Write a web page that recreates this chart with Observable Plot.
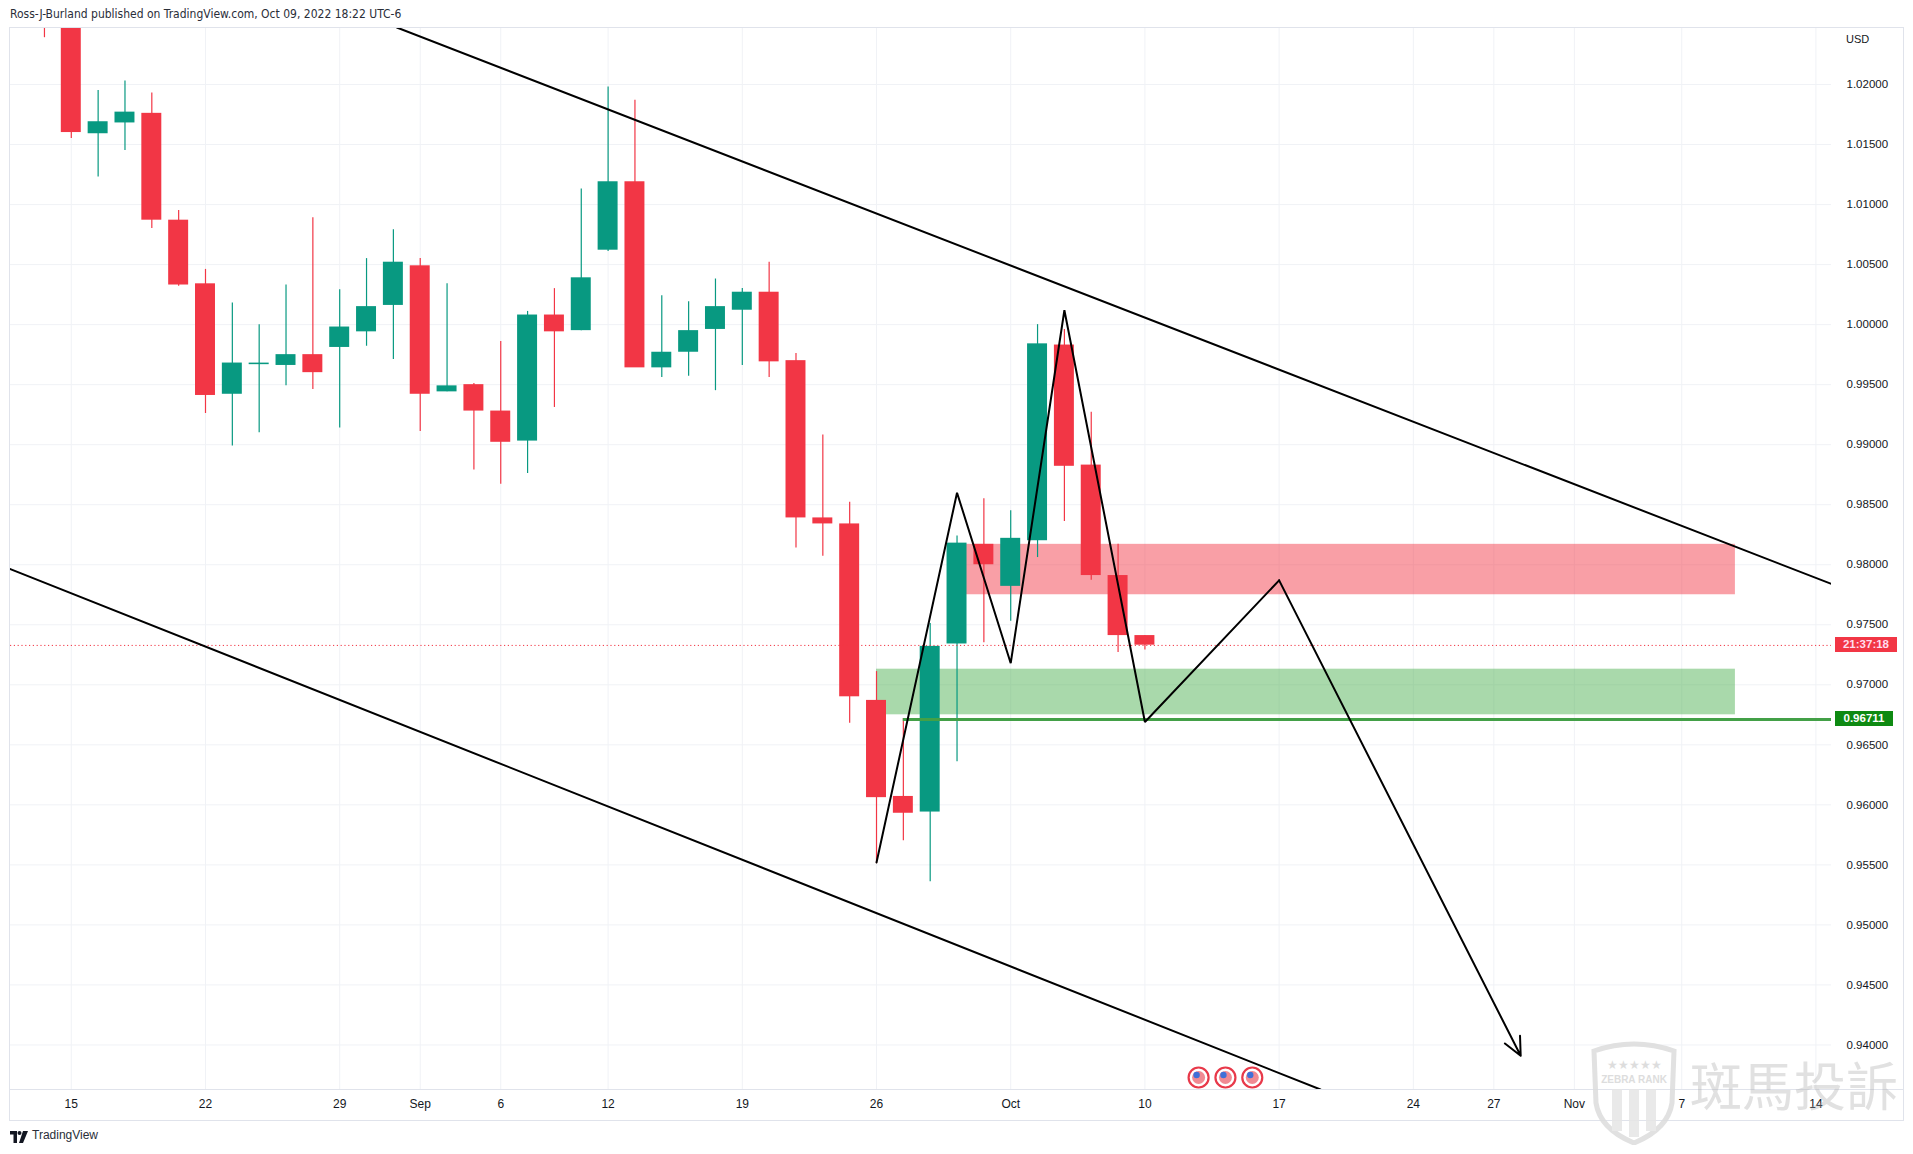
<!DOCTYPE html>
<html><head><meta charset="utf-8">
<script src="https://cdn.jsdelivr.net/npm/d3@7"></script>
<script src="https://cdn.jsdelivr.net/npm/@observablehq/plot@0.6"></script>
<style>
html,body{margin:0;padding:0;background:#fff;}
#wrap{position:relative;width:1913px;height:1154px;overflow:hidden;font-family:"Liberation Sans",Arial,sans-serif;color:#131722;}
#wrap > svg{position:absolute;left:0;top:0;}
.ov{position:absolute;white-space:nowrap;}
</style></head>
<body><div id="wrap"></div>
<script>
// ---------- data ----------
const barIndex = [-1,0,1,2,3,4,5,6,7,8,9,10,11,12,13,14,15,16,17,18,19,20,21,22,23,24,25,26,27,28,29,30,31,32,33,34,35,36,37,38,39,40];
const barDate = ["Aug 12","Aug 15","Aug 16","Aug 17","Aug 18","Aug 19","Aug 22","Aug 23","Aug 24","Aug 25","Aug 26","Aug 29","Aug 30","Aug 31","Sep 1","Sep 2","Sep 5","Sep 6","Sep 7","Sep 8","Sep 9","Sep 12","Sep 13","Sep 14","Sep 15","Sep 16","Sep 19","Sep 20","Sep 21","Sep 22","Sep 23","Sep 26","Sep 27","Sep 28","Sep 29","Sep 30","Oct 3","Oct 4","Oct 5","Oct 6","Oct 7","Oct 10"];
const openP  = [1.0320,1.0259,1.0159,1.0168,1.0176,1.0087,1.0034,0.9942,0.99675,0.9966,0.9975,0.9981,0.9994,1.0016,1.0049,0.9944,0.9950,0.9928,0.9903,1.0008,0.9995,1.0062,1.0119,0.9964,0.9977,0.9996,1.0012,1.0027,0.9970,0.9839,0.9834,0.9687,0.9607,0.9594,0.9734,0.9817,0.9782,0.9820,0.9983,0.9883,0.9791,0.9741];
const highP  = [1.0368,1.0277,1.0195,1.0203,1.0193,1.0095,1.0046,1.0018,1.0000,1.0033,1.0089,1.0029,1.0055,1.0079,1.0055,1.0034,0.9951,0.9986,1.0011,1.0030,1.0113,1.0198,1.0187,1.0024,1.0019,1.0038,1.0030,1.0052,0.9976,0.9908,0.9852,0.9711,0.9672,0.9751,0.9824,0.9855,0.9845,1.0000,0.9996,0.9927,0.9817,0.9741];
const lowP   = [1.0239,1.0155,1.0123,1.0145,1.0080,1.0032,0.9926,0.9899,0.9910,0.9949,0.9946,0.9914,0.9982,0.9971,0.9911,0.9944,0.9879,0.9867,0.9876,0.9931,0.9995,1.0061,0.9965,0.9956,0.9957,0.9945,0.9966,0.9956,0.9814,0.9807,0.9668,0.9551,0.9570,0.9536,0.9636,0.9735,0.9753,0.9806,0.9836,0.9787,0.9727,0.9729];
const closeP = [1.0259,1.0160,1.0169,1.0177,1.0087,1.0033,0.9941,0.9968,0.99677,0.9975,0.9960,0.9998,1.0015,1.0052,0.9942,0.9949,0.9928,0.9902,1.0008,0.9994,1.0039,1.0119,0.9964,0.9977,0.9995,1.0015,1.0027,0.9969,0.9839,0.9834,0.9690,0.9606,0.9593,0.9732,0.9818,0.9800,0.9822,0.9984,0.9882,0.9791,0.9741,0.9733];

const tickIdx    = [0,5,10,13,16,20,25,30,35,40,45,50,53,56,60,65];
const tickLabels = ["15","22","29","Sep","6","12","19","26","Oct","10","17","24","27","Nov","7","14"];
const priceTicks = [0.940,0.945,0.950,0.955,0.960,0.965,0.970,0.975,0.980,0.985,0.990,0.995,1.000,1.005,1.010,1.015,1.020];
const xDomain = [-2.265, 65.58];
const yDomain = [0.93629, 1.02475];

// zones
const zoneX1 = [33.35, 30];
const zoneX2 = [62, 62];
const zoneTop = [0.9817, 0.9713];
const zoneBottom = [0.9775, 0.9675];
const zoneColor = ["#f23645", "#4caf50"];

// horizontal support line
const supportLevel = 0.96711;
const supportStart = 31;
const lastPrice = 0.97328;
const countdown = "21:37:18";

// channel lines
const upperX = [12.13, 65.73], upperY = [1.02475, 0.97827];
const lowerX = [-2.27, 46.54], lowerY = [0.97964, 0.93629];

// projected zigzag path
const zigX = [30, 33, 35, 37, 40, 45, 54];
const zigY = [0.9552, 0.9860, 0.9718, 1.0012, 0.9669, 0.9787, 0.9391];

// economic event markers
const eventIdx = [42, 43, 44];

// ---------- build ----------
const UP = "#089981", DOWN = "#f23645";
const rows = barIndex.map((i, k) => ({i, date: barDate[k], o: openP[k], h: highP[k], l: lowP[k], c: closeP[k], up: closeP[k] >= openP[k]}));
const zones = zoneX1.map((x1, k) => ({x1, x2: zoneX2[k], y1: zoneBottom[k], y2: zoneTop[k], fill: zoneColor[k]}));
const upper = upperX.map((x, k) => ({x, y: upperY[k]}));
const lower = lowerX.map((x, k) => ({x, y: lowerY[k]}));
const zig = zigX.map((x, k) => ({x, y: zigY[k]}));
const zigLine = zig.slice(0, zig.length - 1);
const zigArrow = [{x1: zig[zig.length-2].x, y1: zig[zig.length-2].y, x2: zig[zig.length-1].x, y2: zig[zig.length-1].y}];
const halfBody = 0.372;

const chart = Plot.plot({
  width: 1913, height: 1154,
  marginTop: 27, marginBottom: 65, marginLeft: 10, marginRight: 82,
  style: {background: "transparent", color: "#131722", fontFamily: "Liberation Sans, Arial, sans-serif"},
  x: {type: "linear", domain: xDomain},
  y: {type: "linear", domain: yDomain},
  marks: [
    Plot.gridY(priceTicks, {stroke: "#f0f2f6", strokeOpacity: 1}),
    Plot.gridX(tickIdx, {stroke: "#f0f2f6", strokeOpacity: 1}),
    Plot.rect(zones, {x1: "x1", x2: "x2", y1: "y1", y2: "y2", fill: "fill", fillOpacity: 0.48}),
    Plot.ruleX(rows, {x: "i", y1: "l", y2: "h", stroke: d => d.up ? UP : DOWN, strokeWidth: 1.2, clip: true}),
    Plot.rect(rows, {x1: d => d.i - halfBody, x2: d => d.i + halfBody, y1: "o", y2: "c", fill: d => d.up ? UP : DOWN, clip: true}),
    Plot.ruleY(rows.filter(d => Math.abs(d.o - d.c) < 0.00005), {y: "c", x1: d => d.i - halfBody, x2: d => d.i + halfBody, stroke: d => d.up ? UP : DOWN, strokeWidth: 1.5}),
    Plot.ruleY([lastPrice], {stroke: DOWN, strokeWidth: 1, strokeDasharray: "1.2 2.6"}),
    Plot.ruleY([supportLevel], {x1: supportStart, x2: xDomain[1], stroke: "#43a047", strokeWidth: 3}),
    Plot.line(upper, {x: "x", y: "y", stroke: "#000", strokeWidth: 2, clip: true}),
    Plot.line(lower, {x: "x", y: "y", stroke: "#000", strokeWidth: 2, clip: true}),
    Plot.line(zigLine, {x: "x", y: "y", stroke: "#000", strokeWidth: 2, strokeLinejoin: "miter", strokeLinecap: "round"}),
    Plot.arrow(zigArrow, {x1: "x1", y1: "y1", x2: "x2", y2: "y2", stroke: "#000", strokeWidth: 2, headLength: 15, headAngle: 50}),
    Plot.dot(eventIdx, {x: d => d, frameAnchor: "bottom", dy: -12, r: 10, fill: "#fff", stroke: "#e8394a", strokeWidth: 2.2}),
    Plot.dot(eventIdx, {x: d => d, frameAnchor: "bottom", dy: -12, r: 6.5, fill: "#f08a93"}),
    Plot.dot(eventIdx, {x: d => d, frameAnchor: "bottom", dy: -14.5, dx: -2, r: 3.2, fill: "#3f70d8"}),
    Plot.axisX({ticks: tickIdx, tickFormat: d => tickLabels[tickIdx.indexOf(d)], anchor: "bottom", tickSize: 0, tickPadding: 10, fontSize: 12, label: null}),
    Plot.axisY({ticks: priceTicks, tickFormat: d3.format(".5f"), anchor: "right", tickSize: 0, tickPadding: 15, fontSize: 11.5, label: null, textAnchor: "start"})
  ]
});
const wrap = document.getElementById("wrap");
wrap.appendChild(chart);

const ys = chart.scale("y");
function addDiv(html, css) { const d = document.createElement("div"); d.className = "ov"; d.innerHTML = html; d.style.cssText += css; wrap.appendChild(d); return d; }

// frame
addDiv("", "left:9px;top:27px;width:1893px;height:1092px;border:1px solid #e0e3eb;");
addDiv("", "left:10px;top:1089px;width:1893px;height:0;border-top:1px solid #e0e3eb;");
// header
addDiv("Ross-J-Burland published on TradingView.com, Oct 09, 2022 18:22 UTC-6", "left:10px;top:7px;font-family:'Liberation Sans Narrow','DejaVu Sans Condensed',sans-serif;font-size:12px;color:#2a2e39;");
// currency
addDiv("USD", "left:1846px;top:33px;font-size:11px;color:#131722;");
// price labels
addDiv(countdown, `left:1835px;top:${ys.apply(lastPrice) - 7.5}px;width:62px;height:15px;line-height:15px;text-align:center;background:${DOWN};color:#fde;font-weight:bold;font-size:11.5px;`);
addDiv(d3.format(".5f")(supportLevel), `left:1835px;top:${ys.apply(supportLevel) - 7.5}px;width:58px;height:15px;line-height:15px;text-align:center;background:#0e8a12;color:#fff;font-weight:bold;font-size:11.5px;`);
// footer logo + text
addDiv(`<svg width="18" height="12" viewBox="0 0 18 12"><path d="M0 0h7v12h-3.5v-8.5h-3.5z" fill="#131722"/><circle cx="9.5" cy="2" r="2" fill="#131722"/><path d="M13 0h5l-5 12h-4z" fill="#131722"/></svg>`, "left:10px;top:1131px;line-height:0;");
addDiv("TradingView", "left:32px;top:1128px;font-size:12px;color:#2a2e39;");
// watermark
addDiv(`<svg width="96" height="104" viewBox="0 0 96 104"><path d="M8 10 Q48 -4 88 10 L86 62 Q82 88 48 102 Q14 88 10 62 Z" fill="none" stroke="#dcdcdc" stroke-width="5"/><text x="48" y="42" text-anchor="middle" font-size="10" font-weight="bold" fill="#d8d8d8" font-family="Liberation Sans">ZEBRA RANK</text><text x="48" y="28" text-anchor="middle" font-size="12" fill="#d8d8d8">★★★★★</text><path d="M26 48h10v42h-10z M43 48h10v48h-10z M60 48h10v42h-10z" fill="#e6e6e6"/></svg>`, "left:1586px;top:1041px;opacity:0.85;");
addDiv("斑馬投訴", "left:1690px;top:1054px;font-family:'Noto Sans CJK TC','Noto Sans CJK SC',sans-serif;font-size:52px;line-height:60px;color:rgba(170,170,170,0.35);");
</script>
</body></html>
